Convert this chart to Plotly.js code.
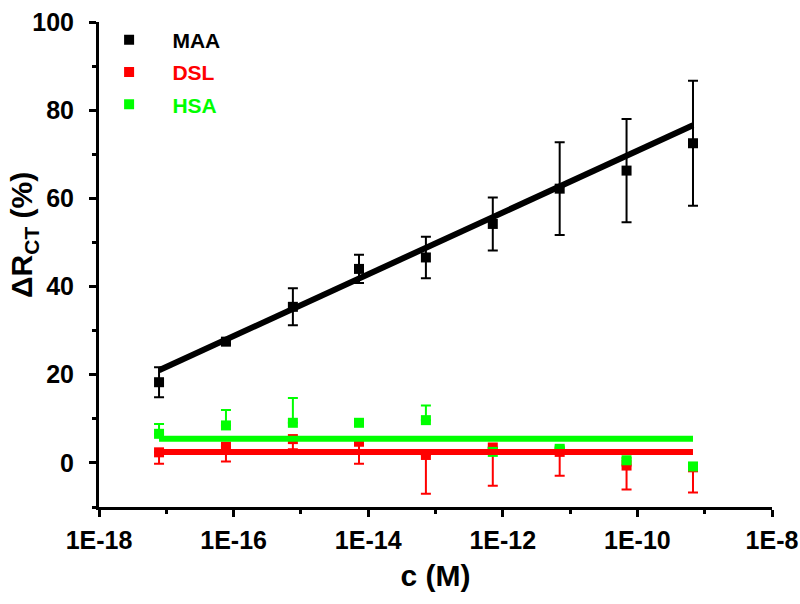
<!DOCTYPE html>
<html>
<head>
<meta charset="utf-8">
<script src="https://cdn.plot.ly/plotly-3.0.1.min.js"></script>
<style>html,body{margin:0;padding:0;background:#fff;}#chart{width:800px;height:604px;}</style>
</head>
<body>
<div id="chart"></div>
<script>
// concentrations (M)
const conc = [7.8e-18, 7.7e-17, 7.6e-16, 7.3e-15, 7.2e-14, 7.1e-13, 7.0e-12, 6.9e-11, 6.7e-10];
// MAA
const maaY = [18.3, 27.5, 35.4, 44.0, 46.6, 54.2, 62.2, 66.3, 72.5];
const maaErr = [3.4, 0.5, 4.2, 3.2, 4.7, 6.0, 10.5, 11.7, 14.2];
// DSL
const dslY = [2.4, 3.7, 5.4, 4.8, 1.8, 3.5, 2.5, -0.6, -1.0];
const dslErrMinus = [2.6, 3.4, 2.3, 5.0, 8.8, 8.7, 5.4, 5.45, 5.7];
// HSA
const hsaY = [6.6, 8.5, 9.1, 9.1, 9.7, 2.5, 3.2, 0.6, -0.8];
const hsaErrPlus = [2.2, 3.5, 5.6, 0.6, 3.3, 0.5, 0.5, 0.5, 0.5];
// linear fits (start, end)
const fitX = [7.8e-18, 6.7e-10];
const maaFit = [21.0, 76.6];
const dslFit = [2.5, 2.5];
const hsaFit = [5.5, 5.5];
// legend labels
const seriesNames = ['MAA', 'DSL', 'HSA'];
// ticks
const xTickVals = [1e-18, 1e-16, 1e-14, 1e-12, 1e-10, 1e-8];
const xTickText = ['1E-18', '1E-16', '1E-14', '1E-12', '1E-10', '1E-8'];
const xMinorVals = [1e-17, 1e-15, 1e-13, 1e-11, 1e-9];
const yTickVals = [0, 20, 40, 60, 80, 100];
const yMinorVals = [-10, 10, 30, 50, 70, 90];

const BLACK = '#000000', RED = '#ff0000', GREEN = '#00ff00';
const PAD = '\u00a0\u00a0\u00a0\u00a0';

function pts(name, y, err, color, group) {
  return {
    type: 'scatter', mode: 'markers', name: '<span style="color:' + color + '">' + PAD + name + '</span>',
    x: conc, y: y, legendgroup: group,
    marker: {symbol: 'square', size: 10, color: color},
    error_y: Object.assign({type: 'data', color: color, thickness: 2, width: 5, visible: true}, err)
  };
}
function fit(y, color) {
  return {type: 'scatter', mode: 'lines', x: fitX, y: y, showlegend: false,
    line: {color: color, width: 6}, hoverinfo: 'skip'};
}

const data = [
  pts(seriesNames[0], maaY, {array: maaErr, symmetric: true}, BLACK, 'a'),
  pts(seriesNames[1], dslY, {symmetric: false, array: dslY.map(() => 0), arrayminus: dslErrMinus}, RED, 'b'),
  pts(seriesNames[2], hsaY, {symmetric: false, array: hsaErrPlus, arrayminus: hsaY.map(() => 0)}, GREEN, 'c'),
  fit(maaFit, BLACK),
  fit(dslFit, RED),
  fit(hsaFit, GREEN)
];

const FAM = '"Liberation Sans", Arial, sans-serif';

const layout = {
  width: 800, height: 604,
  margin: {l: 99, r: 28, t: 22, b: 97},
  paper_bgcolor: '#fff', plot_bgcolor: '#fff',
  font: {family: FAM, color: '#000'},
  showlegend: true,
  legend: {x: 0.015, y: 1.005, xanchor: 'left', yanchor: 'top', bgcolor: 'rgba(0,0,0,0)',
    font: {family: FAM, size: 21, weight: 'bold'}, tracegroupgap: 2},
  xaxis: {
    type: 'log', range: [-18, -8], showgrid: false, zeroline: false,
    showline: true, linecolor: '#000', linewidth: 3,
    ticks: 'outside', ticklen: 7, tickwidth: 3, tickcolor: '#000',
    tickmode: 'array', tickvals: xTickVals, ticktext: xTickText,
    ticklabelstandoff: 2,
    tickfont: {family: FAM, size: 25, weight: 'bold'},
    minor: {tickmode: 'array', tickvals: xMinorVals, ticks: 'outside', ticklen: 4, tickwidth: 3, tickcolor: '#000'},
    title: {text: 'c (M)', font: {family: FAM, size: 30, weight: 'bold'}, standoff: 12}
  },
  yaxis: {
    range: [-10, 100], showgrid: false, zeroline: false,
    showline: true, linecolor: '#000', linewidth: 3,
    ticks: 'outside', ticklen: 7, tickwidth: 3, tickcolor: '#000',
    tickmode: 'array', tickvals: yTickVals,
    ticklabelstandoff: 10,
    tickfont: {family: FAM, size: 25, weight: 'bold'},
    minor: {tickmode: 'array', tickvals: yMinorVals, ticks: 'outside', ticklen: 4, tickwidth: 3, tickcolor: '#000'}
  },
  annotations: [{
    text: 'ΔR<sub>CT</sub> (%)', xref: 'paper', yref: 'paper', x: -0.112, y: 0.56,
    xanchor: 'center', yanchor: 'middle', textangle: -90, showarrow: false,
    font: {family: FAM, size: 30, weight: 'bold', color: '#000'}
  }]
};

Plotly.newPlot('chart', data, layout, {staticPlot: true, displayModeBar: false});
</script>
</body>
</html>
